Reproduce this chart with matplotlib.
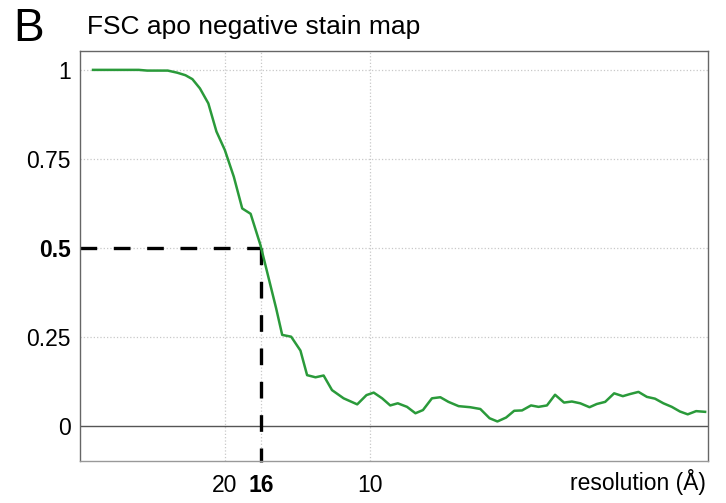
import matplotlib
matplotlib.use("Agg")
import matplotlib.pyplot as plt

plt.rcParams["font.family"] = ["Liberation Sans", "DejaVu Sans"]

# FSC curve, x in spatial frequency (1/Å)
freq = [0.0045, 0.0203, 0.0232, 0.0303, 0.0336, 0.0364, 0.0388, 0.0414,
        0.0443, 0.0471, 0.0500, 0.0531, 0.0560, 0.0589, 0.0623, 0.0677,
        0.0698, 0.0729, 0.0761, 0.0784, 0.0813, 0.0841, 0.0870, 0.0910,
        0.0957, 0.0989, 0.1014, 0.1043, 0.1071, 0.1097, 0.1129, 0.1158,
        0.1184, 0.1215, 0.1244, 0.1272, 0.1307, 0.1347, 0.1382, 0.1414,
        0.1441, 0.1471, 0.1499, 0.1526, 0.1557, 0.1583, 0.1612, 0.1640,
        0.1671, 0.1698, 0.1727, 0.1759, 0.1784, 0.1813, 0.1844, 0.1874,
        0.1899, 0.1928, 0.1957, 0.1985, 0.2014, 0.2043, 0.2071, 0.2098,
        0.2127, 0.2158]
fsc = [1.000, 1.000, 0.998, 0.998, 0.992, 0.985, 0.974, 0.948,
       0.906, 0.827, 0.775, 0.700, 0.611, 0.596, 0.508, 0.331,
       0.256, 0.251, 0.212, 0.143, 0.137, 0.142, 0.101, 0.078,
       0.061, 0.087, 0.094, 0.078, 0.058, 0.064, 0.054, 0.036,
       0.045, 0.078, 0.081, 0.068, 0.056, 0.053, 0.048, 0.022,
       0.013, 0.024, 0.043, 0.044, 0.058, 0.054, 0.058, 0.088,
       0.066, 0.069, 0.064, 0.053, 0.062, 0.068, 0.092, 0.084,
       0.090, 0.096, 0.082, 0.077, 0.064, 0.054, 0.041, 0.033,
       0.042, 0.040]

res_ticks = [20, 16, 10]
fsc_ticks = [0, 0.25, 0.5, 0.75, 1]
fsc_tick_labels = ["0", "0.25", "0.5", "0.75", "1"]
cutoff_res = 16
cutoff_fsc = 0.5

fig = plt.figure(figsize=(7.26, 5.03), dpi=100)
ax = fig.add_axes([80 / 726, 1 - 461 / 503, 628 / 726, 410 / 503])

# grade pontilhada
for r in res_ticks:
    ax.axvline(1 / r, color="#c8c8c8", linestyle=":", linewidth=0.9, zorder=0)
for t in fsc_ticks[1:]:
    ax.axhline(t, color="#c8c8c8", linestyle=":", linewidth=0.9, zorder=0)
ax.axhline(0, color="#555555", linewidth=1.0, zorder=1)

# curva FSC
ax.plot(freq, fsc, color="#2a9a3a", linewidth=1.8, zorder=3)

# linhas de corte tracejadas
ax.plot([0, 1 / cutoff_res], [cutoff_fsc, cutoff_fsc], color="black",
        linewidth=2.4, dashes=(5, 5), zorder=2)
ax.plot([1 / cutoff_res, 1 / cutoff_res], [cutoff_fsc, -0.1], color="black",
        linewidth=2.4, dashes=(5, 5), zorder=2, clip_on=False)

ax.set_xlim(0, 0.2168)
ax.set_ylim(-0.098, 1.053)

ax.set_xticks([1 / r for r in res_ticks])
ax.set_xticklabels([str(r) for r in res_ticks])
ax.set_yticks(fsc_ticks)
ax.set_yticklabels(fsc_tick_labels)
ax.tick_params(length=0, labelsize=16.5, colors="black")
ax.tick_params(axis="x", pad=9)
ax.tick_params(axis="y", pad=6.5)

for lbl in ax.get_xticklabels():
    if lbl.get_text() == str(cutoff_res):
        lbl.set_fontweight("bold")
for lbl in ax.get_yticklabels():
    if lbl.get_text() == "0.5":
        lbl.set_fontweight("bold")

for s in ax.spines.values():
    s.set_color("#666666")
    s.set_linewidth(1.0)
ax.spines["bottom"].set_color("#999999")

fig.text(706 / 726, 1 - 482 / 503, "resolution (Å)", ha="right",
         va="center", fontsize=16.5)

fig.text(87 / 726, 1 - 27 / 503, "FSC apo negative stain map",
         ha="left", va="center", fontsize=19)
fig.text(13 / 726, 1 - 29 / 503, "B", ha="left", va="center", fontsize=33)

fig.savefig("out.png", dpi=100, facecolor="white")
